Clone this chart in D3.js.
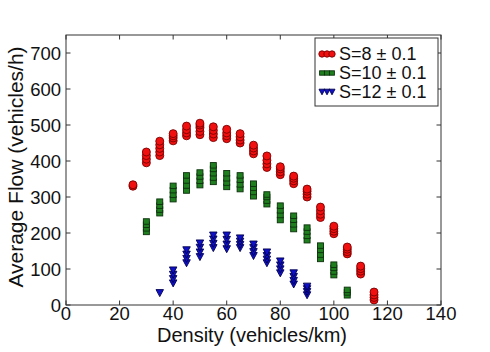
<!DOCTYPE html>
<html>
<head>
<meta charset="utf-8">
<script src="https://cdn.jsdelivr.net/npm/d3@7"></script>
<style>
  html, body { margin: 0; padding: 0; background: #fff; }
  svg { display: block; }
  text { font-family: "Liberation Sans", Arial, Helvetica, sans-serif; fill: #111; }
</style>
</head>
<body>
<svg id="chart" width="490" height="352"></svg>
<script>
// ---- data ----
const xTicks = [0, 20, 40, 60, 80, 100, 120, 140];
const yTicks = [0, 100, 200, 300, 400, 500, 600, 700];
const xLabel = "Density (vehicles/km)";
const yLabel = "Average Flow (vehicles/h)";
const seriesNames = ["S=8 \u00B1 0.1", "S=10 \u00B1 0.1", "S=12 \u00B1 0.1"];

// S=8 : density -> measured flows (stacked points)
const densityS8 = [25, 30, 35, 40, 45, 50, 55, 60, 65, 70, 75, 80, 85, 90, 95, 100, 105, 110, 115];
const flowS8 = [
  [330, 334],
  [395, 405, 415, 425],
  [415, 425, 435, 445, 455],
  [456, 464, 470, 476],
  [470, 478, 487, 497],
  [473, 482, 492, 500, 505],
  [465, 475, 485, 495],
  [462, 470, 478, 488],
  [450, 458, 467, 476],
  [420, 428, 436, 444],
  [382, 392, 402, 414],
  [362, 370, 378, 384],
  [337, 345, 352, 358],
  [300, 308, 316, 322],
  [243, 252, 262, 272],
  [198, 205, 212, 219],
  [142, 148, 155, 161],
  [86, 94, 101, 108],
  [14, 21, 28, 36]
];

// S=10
const densityS10 = [30, 35, 40, 45, 50, 55, 60, 65, 70, 75, 80, 85, 90, 95, 100, 105];
const flowS10 = [
  [203, 213, 223, 232],
  [255, 265, 276, 287],
  [294, 306, 319, 331],
  [318, 332, 346, 360],
  [333, 345, 357, 368],
  [342, 354, 366, 378, 388],
  [328, 340, 352, 366],
  [322, 335, 348, 360],
  [302, 314, 326, 337],
  [280, 290, 300, 307],
  [236, 250, 263, 276],
  [211, 224, 237, 248],
  [180, 192, 204, 215],
  [128, 140, 153, 165],
  [83, 93, 103, 112],
  [27, 35, 42]
];

// S=12
const densityS12 = [35, 40, 45, 50, 55, 60, 65, 70, 75, 80, 85, 90];
const flowS12 = [
  [33],
  [60, 72, 84, 96],
  [116, 128, 140, 152],
  [133, 146, 159, 171],
  [158, 170, 182, 193],
  [155, 168, 181, 193],
  [158, 167, 176, 185],
  [136, 147, 158, 168],
  [116, 126, 136, 146],
  [88, 99, 110, 121],
  [57, 67, 78, 88],
  [27, 36, 44, 51]
];

// ---- drawing ----
const svg = d3.select("#chart");
const x = d3.scaleLinear().domain([0, 140]).range([66, 441]);
const y = d3.scaleLinear().domain([0, 750]).range([305, 35]);

const styles = [
  { fill: "#f01010", stroke: "#7a0000", symbol: "circle" },
  { fill: "#1f7f1f", stroke: "#0b300b", symbol: "square" },
  { fill: "#1010c8", stroke: "#000050", symbol: "tri" }
];

function flatten(dens, flows) {
  const out = [];
  dens.forEach((d, i) => flows[i].forEach(v => out.push({ d: d, v: v })));
  return out;
}
const allSeries = [
  flatten(densityS8, flowS8),
  flatten(densityS10, flowS10),
  flatten(densityS12, flowS12)
];

function drawMarker(g, st, cx, cy, scale) {
  const s = scale || 1;
  if (st.symbol === "circle") {
    g.append("circle").attr("cx", cx).attr("cy", cy).attr("r", 4 * s)
      .attr("fill", st.fill).attr("stroke", st.stroke).attr("stroke-width", 0.9);
  } else if (st.symbol === "square") {
    const w = 6 * s, h = 5.5 * s;
    g.append("rect").attr("x", cx - w / 2).attr("y", cy - h / 2).attr("width", w).attr("height", h)
      .attr("fill", st.fill).attr("stroke", st.stroke).attr("stroke-width", 0.9);
  } else {
    const w = 7.5 * s, h = 7 * s;
    g.append("path")
      .attr("d", `M${cx - w / 2},${cy - h / 2}L${cx + w / 2},${cy - h / 2}L${cx},${cy + h / 2}Z`)
      .attr("fill", st.fill).attr("stroke", st.stroke).attr("stroke-width", 0.9);
  }
}

// points
const pts = svg.append("g");
allSeries.forEach((ser, si) => {
  ser.forEach(p => drawMarker(pts, styles[si], x(p.d), y(p.v)));
});

// frame
const frameColor = "#333";
svg.append("rect").attr("x", x(0)).attr("y", y(750)).attr("width", x(140) - x(0)).attr("height", y(0) - y(750))
  .attr("fill", "none").attr("stroke", frameColor).attr("stroke-width", 1);

// ticks (inward, all sides)
const tl = 4.5;
const tg = svg.append("g").attr("stroke", frameColor).attr("stroke-width", 1);
xTicks.forEach(t => {
  tg.append("line").attr("x1", x(t)).attr("x2", x(t)).attr("y1", y(0)).attr("y2", y(0) - tl);
  tg.append("line").attr("x1", x(t)).attr("x2", x(t)).attr("y1", y(750)).attr("y2", y(750) + tl);
});
yTicks.forEach(t => {
  tg.append("line").attr("x1", x(0)).attr("x2", x(0) + tl).attr("y1", y(t)).attr("y2", y(t));
  tg.append("line").attr("x1", x(140)).attr("x2", x(140) - tl).attr("y1", y(t)).attr("y2", y(t));
});

// tick labels
const tickFont = 18.5;
svg.append("g").selectAll("text").data(xTicks).join("text")
  .attr("x", d => x(d)).attr("y", 319.5)
  .attr("text-anchor", "middle").attr("font-size", tickFont)
  .text(d => d);
svg.append("g").selectAll("text").data(yTicks).join("text")
  .attr("x", 61).attr("y", d => y(d)).attr("dy", "0.36em")
  .attr("text-anchor", "end").attr("font-size", tickFont)
  .text(d => d);

// axis labels
svg.append("text").attr("x", 252).attr("y", 342).attr("text-anchor", "middle")
  .attr("font-size", 20).text(xLabel);
svg.append("text").attr("transform", "translate(23,167) rotate(-90)").attr("text-anchor", "middle")
  .attr("font-size", 21).text(yLabel);

// legend
const lg = svg.append("g");
lg.append("rect").attr("x", 315).attr("y", 38).attr("width", 123).attr("height", 68)
  .attr("fill", "#fff").attr("stroke", frameColor).attr("stroke-width", 1);
const rowY = [54, 73, 92];
seriesNames.forEach((name, i) => {
  [322, 327, 332].forEach(mx => drawMarker(lg, styles[i], mx, rowY[i], 0.8));
  lg.append("text").attr("x", 339).attr("y", rowY[i]).attr("dy", "0.36em")
    .attr("font-size", 18).text(name);
});
</script>
</body>
</html>
